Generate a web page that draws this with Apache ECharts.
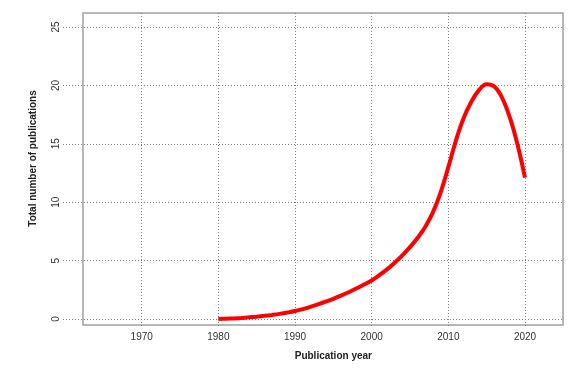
<!DOCTYPE html>
<html>
<head>
<meta charset="utf-8">
<script src="https://cdn.jsdelivr.net/npm/echarts@6/dist/echarts.min.js"></script>
<style>
html,body{margin:0;padding:0;background:#fff;}
#chart{width:578px;height:377px;}
</style>
</head>
<body>
<div id="chart"></div>
<script>
// ---- data ----
const years = [1980,1981,1982,1983,1984,1985,1986,1987,1988,1989,
               1990,1991,1992,1993,1994,1995,1996,1997,1998,1999,
               2000,2001,2002,2003,2004,2005,2006,2007,2008,2009,
               2010,2011,2012,2013,2014,2015,2016,2017,2018,2019,2020];
const publications = [0,0.02,0.05,0.09,0.14,0.2,0.27,0.35,0.44,0.55,
                      0.68,0.85,1.04,1.25,1.48,1.73,2.0,2.29,2.61,2.95,
                      3.3,3.75,4.25,4.82,5.45,6.15,6.95,7.9,9.15,10.85,
                      13.0,15.3,17.2,18.6,19.6,20.1,19.9,18.95,17.3,15.0,12.1];
const xTicks = [1970, 2020, 10];   // min, max, step
const yTicks = [0, 25, 5];         // min, max, step
const xTitle = 'Publication year';
const yTitle = 'Total number of publications';

const chart = echarts.init(document.getElementById('chart'), null, {renderer:'canvas'});
const dotted = {show:true, lineStyle:{color:'#808080', width:1, type:[1,2]}};
const font = 'Liberation Sans, Arial, sans-serif';

chart.setOption({
  animation:false,
  backgroundColor:'#fff',
  grid:[
    {left:83, right:15, top:13, bottom:52, show:true, borderColor:'#a0a0a0', borderWidth:1.5, backgroundColor:'transparent'},
    {left:141.7, right:53, top:13, bottom:50},
    {left:63, right:16, top:27, bottom:58},
    {left:141.7, right:53, top:27, bottom:58}
  ],
  xAxis:[
    {gridIndex:0, type:'value', min:0, max:1, show:false},
    {gridIndex:1, type:'value', min:xTicks[0], max:xTicks[1], interval:xTicks[2],
      axisLine:{show:false}, axisTick:{show:false}, splitLine:dotted,
      axisLabel:{margin:5, color:'#333', fontSize:10, fontFamily:font, formatter:v=>String(v)},
      name:xTitle, nameLocation:'middle', nameGap:24,
      nameTextStyle:{fontWeight:'bold', fontSize:10, color:'#222', fontFamily:font}},
    {gridIndex:2, type:'value', min:0, max:1, show:false},
    {gridIndex:3, type:'value', min:xTicks[0], max:xTicks[1], show:false}
  ],
  yAxis:[
    {gridIndex:0, type:'value', min:0, max:1, show:false},
    {gridIndex:1, type:'value', min:0, max:1, show:false},
    {gridIndex:2, type:'value', min:yTicks[0], max:yTicks[1], interval:yTicks[2],
      axisLine:{show:false}, axisTick:{show:false}, splitLine:dotted,
      axisLabel:{rotate:90, margin:2, color:'#333', fontSize:10, fontFamily:font, formatter:v=>String(v)}},
    {gridIndex:3, type:'value', min:yTicks[0], max:yTicks[1], show:false}
  ],
  graphic:[{
    type:'text', x:33, y:158.5, rotation:Math.PI/2,
    style:{text:yTitle, align:'center', verticalAlign:'middle', fill:'#222',
      font:'bold 10px ' + font}
  }],
  series:[{
    type:'line', xAxisIndex:3, yAxisIndex:3,
    data: years.map((y,i)=>[y, publications[i]]),
    showSymbol:false, smooth:0.4,
    lineStyle:{color:'#ff0000', width:4}
  }]
});
</script>
</body>
</html>
